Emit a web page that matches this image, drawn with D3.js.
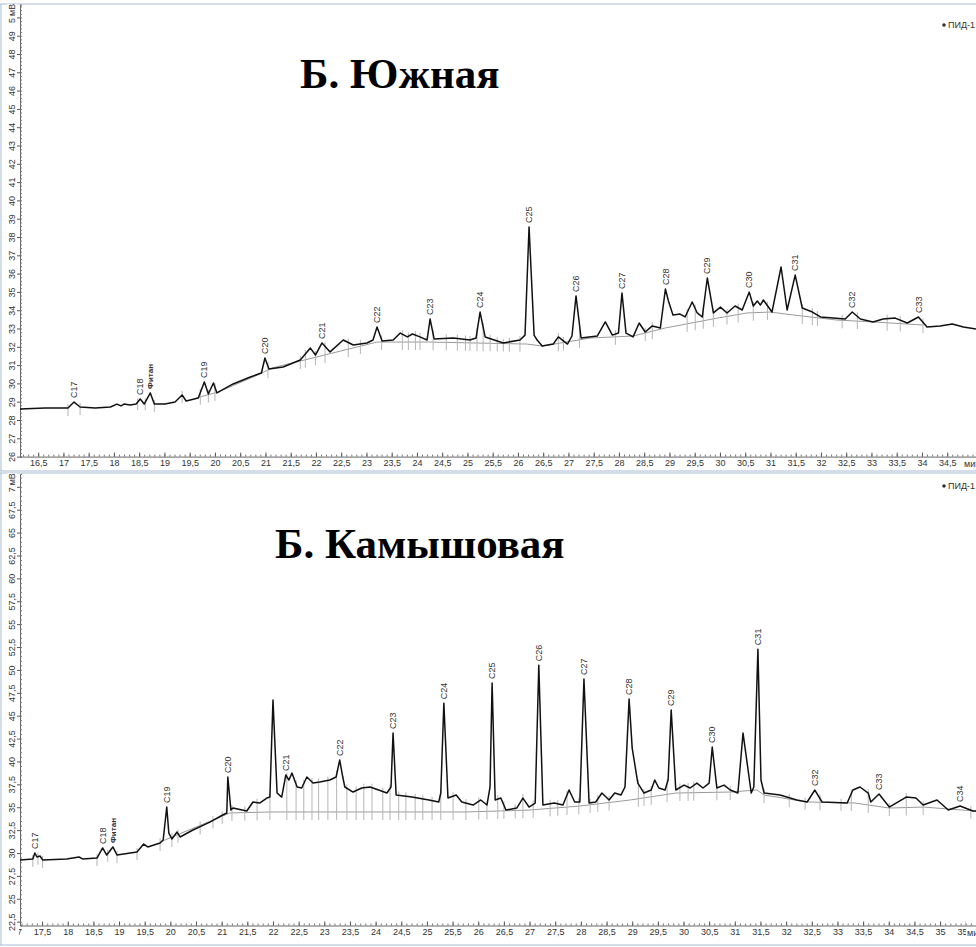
<!DOCTYPE html>
<html>
<head>
<meta charset="utf-8">
<script src="https://cdn.jsdelivr.net/npm/d3@7"></script>
<style>
  body { margin: 0; background: #fff; }
  svg { display: block; }
</style>
</head>
<body>
<div id="chromatogram-wrapper"></div>
<script>

// Б. Южная: [time, min ; signal, mV]
const yuzhnayaTrace = [
  [16.14, 28.60], [16.64, 28.66], [16.94, 28.66], [17.09, 28.66], [17.21, 28.98], [17.33, 28.71],
  [17.63, 28.66], [17.93, 28.71], [18.06, 28.87], [18.14, 28.77], [18.20, 28.87], [18.32, 28.82],
  [18.44, 28.87], [18.52, 29.15], [18.60, 28.87], [18.72, 29.48], [18.80, 28.87], [19.01, 28.87],
  [19.21, 28.98], [19.35, 29.37], [19.43, 29.04], [19.67, 29.20], [19.79, 30.08], [19.87, 29.42],
  [19.97, 30.02], [20.04, 29.48], [20.36, 29.97], [20.70, 30.35], [20.92, 30.57], [20.99, 31.39],
  [21.07, 30.79], [21.35, 30.90], [21.69, 31.28], [21.89, 31.93], [21.99, 31.55], [22.12, 32.21],
  [22.28, 31.72], [22.54, 32.37], [22.74, 32.10], [23.01, 32.21], [23.13, 32.37], [23.21, 33.08],
  [23.31, 32.32], [23.53, 32.37], [23.67, 32.75], [23.81, 32.54], [23.91, 32.70], [24.06, 32.54],
  [24.20, 32.37], [24.26, 33.52], [24.34, 32.43], [24.72, 32.48], [25.05, 32.37], [25.17, 32.48],
  [25.25, 33.90], [25.35, 32.54], [25.71, 32.21], [26.04, 32.37], [26.14, 32.64], [26.22, 38.55],
  [26.32, 32.64], [26.38, 32.37], [26.48, 32.04], [26.70, 32.15], [26.80, 32.54], [26.98, 32.15],
  [27.07, 32.59], [27.15, 34.78], [27.25, 32.48], [27.57, 32.59], [27.73, 33.36], [27.87, 32.64],
  [27.99, 32.75], [28.06, 34.94], [28.14, 32.75], [28.28, 32.54], [28.40, 33.30], [28.52, 32.81],
  [28.66, 33.14], [28.82, 33.03], [28.92, 35.16], [28.98, 34.50], [29.07, 33.74], [29.21, 33.79],
  [29.31, 33.63], [29.45, 34.45], [29.55, 33.85], [29.65, 33.63], [29.75, 35.76], [29.87, 33.85],
  [30.01, 34.17], [30.14, 33.85], [30.30, 34.23], [30.44, 34.01], [30.58, 34.99], [30.66, 34.23],
  [30.74, 34.50], [30.80, 34.28], [30.86, 34.56], [31.03, 33.90], [31.21, 36.36], [31.33, 34.01],
  [31.49, 35.92], [31.63, 34.12], [31.83, 33.90], [31.99, 33.63], [32.24, 33.57], [32.48, 33.52],
  [32.62, 33.90], [32.78, 33.52], [33.03, 33.36], [33.23, 33.52], [33.47, 33.57], [33.71, 33.30],
  [33.93, 33.63], [34.10, 33.08], [34.36, 33.14], [34.60, 33.25], [34.82, 33.08], [35.07, 32.97],
]

const yuzhnayaBaseline = [
  [19.63, 29.20], [20.06, 29.53], [20.80, 30.40], [21.13, 30.84], [22.58, 31.83], [23.21, 32.26],
  [24.26, 32.26], [26.18, 32.15], [26.48, 32.04], [27.43, 32.48], [28.28, 32.59], [28.92, 33.03],
  [29.95, 33.57], [30.54, 33.85], [31.00, 33.90], [31.45, 33.74], [32.32, 33.46], [33.03, 33.36],
  [34.02, 33.19],
]

const yuzhnayaMarkers = [
  17.09, 17.33, 18.47, 18.62, 18.80, 19.35, 19.71, 19.87, 20.00, 21.05, 21.69, 21.79, 21.99, 22.18,
  22.64, 22.88, 23.30, 23.71, 23.83, 23.97, 24.06, 24.32, 24.58, 24.80, 24.96, 25.05, 25.19, 25.31,
  25.45, 25.59, 25.71, 25.83, 26.04, 26.80, 26.90, 27.22, 27.93, 28.52, 28.66, 29.35, 29.51, 29.67,
  29.87, 30.14, 30.36, 30.66, 30.94, 31.63, 31.83, 31.93, 32.42, 32.72, 33.31, 33.57, 34.02,
]

const yuzhnayaPeaks = [
  ["C17", 17.21], ["C18", 18.52], ["Фитан", 18.72], ["C19", 19.79], ["C20", 20.99], ["C21", 22.12],
  ["C22", 23.21], ["C23", 24.26], ["C24", 25.25], ["C25", 26.22], ["C26", 27.15], ["C27", 28.06],
  ["C28", 28.92], ["C29", 29.75], ["C30", 30.58], ["C31", 31.49], ["C32", 32.62], ["C33", 33.93],
]

const yuzhnayaXTicks = [16.5, 17, 17.5, 18, 18.5, 19, 19.5, 20, 20.5, 21, 21.5, 22, 22.5, 23, 23.5, 24,
  24.5, 25, 25.5, 26, 26.5, 27, 27.5, 28, 28.5, 29, 29.5, 30, 30.5, 31, 31.5, 32, 32.5, 33, 33.5, 34, 34.5, 35]
const yuzhnayaYTicks = [26, 27, 28, 29, 30, 31, 32, 33, 34, 35, 36, 37, 38, 39, 40, 41, 42, 43, 44, 45,
  46, 47, 48, 49, 50]

// Б. Камышовая
const kamyshTrace = [
  [17.07, 29.24], [17.32, 29.35], [17.36, 30.00], [17.40, 29.56], [17.46, 29.67], [17.51, 29.24],
  [17.98, 29.35], [18.22, 29.56], [18.29, 29.35], [18.57, 29.45], [18.68, 30.55], [18.76, 29.78],
  [18.88, 30.66], [18.96, 29.78], [19.35, 30.11], [19.48, 30.98], [19.56, 30.66], [19.80, 31.09],
  [19.86, 31.42], [19.93, 35.02], [19.97, 32.18], [20.03, 31.53], [20.13, 32.29], [20.19, 31.75],
  [20.44, 32.51], [20.77, 33.38], [21.02, 34.15], [21.10, 34.37], [21.12, 38.30], [21.18, 34.69],
  [21.22, 34.91], [21.49, 34.59], [21.61, 35.57], [21.74, 35.46], [21.88, 36.00], [21.94, 36.11],
  [22.00, 46.70], [22.08, 36.55], [22.17, 36.11], [22.25, 38.52], [22.31, 37.97], [22.37, 38.73],
  [22.47, 37.21], [22.56, 37.10], [22.66, 38.30], [22.78, 37.64], [22.91, 37.75], [23.11, 37.97],
  [23.23, 38.30], [23.30, 40.15], [23.36, 38.30], [23.40, 37.21], [23.56, 36.66], [23.73, 37.10],
  [23.89, 37.21], [24.06, 36.88], [24.22, 36.55], [24.30, 37.21], [24.34, 43.10], [24.40, 36.33],
  [24.71, 36.11], [25.04, 35.79], [25.23, 35.57], [25.27, 36.55], [25.33, 46.37], [25.41, 36.00],
  [25.57, 36.33], [25.68, 35.57], [25.90, 35.24], [26.05, 35.79], [26.17, 35.24], [26.23, 37.21],
  [26.27, 48.56], [26.33, 35.79], [26.44, 36.00], [26.54, 34.69], [26.75, 34.91], [26.87, 36.00],
  [26.99, 35.02], [27.11, 35.46], [27.18, 50.52], [27.26, 35.24], [27.48, 35.46], [27.65, 35.24],
  [27.77, 36.88], [27.88, 35.57], [27.98, 35.57], [28.06, 49.00], [28.16, 35.46], [28.29, 35.57],
  [28.41, 36.55], [28.55, 35.79], [28.66, 36.55], [28.78, 36.33], [28.86, 37.21], [28.94, 46.81],
  [29.00, 41.46], [29.11, 37.64], [29.23, 36.55], [29.37, 36.88], [29.44, 37.97], [29.52, 37.10],
  [29.64, 36.88], [29.70, 37.97], [29.76, 45.61], [29.85, 36.88], [30.01, 37.42], [30.13, 37.10],
  [30.26, 37.64], [30.38, 37.10], [30.50, 37.64], [30.56, 41.57], [30.65, 37.10], [30.79, 37.42],
  [30.91, 36.88], [31.06, 36.55], [31.16, 43.10], [31.32, 36.55], [31.37, 37.21], [31.45, 52.27],
  [31.51, 37.97], [31.57, 36.55], [31.88, 36.33], [32.21, 35.79], [32.41, 35.57], [32.56, 36.88],
  [32.70, 35.57], [33.19, 35.46], [33.30, 36.88], [33.44, 37.21], [33.60, 36.55], [33.65, 35.57],
  [33.81, 36.44], [34.01, 35.02], [34.34, 36.11], [34.53, 36.00], [34.67, 35.24], [34.94, 35.79],
  [35.16, 34.69], [35.39, 35.13], [35.64, 34.58], [35.70, 34.58],
]

const kamyshBaseline = [
  [19.80, 31.20], [21.16, 34.37], [21.94, 34.48], [25.76, 34.48], [26.99, 34.69], [27.98, 35.13],
  [28.96, 35.79], [29.85, 36.55], [30.91, 36.66], [31.43, 36.88], [31.57, 36.33], [32.41, 35.57],
  [33.34, 35.46], [34.01, 34.91], [34.67, 35.02], [35.70, 34.58],
]

const kamyshMarkers = [
  17.32, 17.42, 17.51, 18.57, 18.78, 18.96, 19.35, 19.80, 20.03, 20.15, 20.58, 20.83, 21.01, 21.20,
  21.45, 21.69, 21.94, 22.27, 22.45, 22.60, 22.76, 22.89, 23.07, 23.24, 23.44, 23.62, 23.77, 23.93,
  24.14, 24.28, 24.45, 24.59, 24.77, 24.92, 25.10, 25.27, 25.51, 25.76, 26.01, 26.17, 26.38, 26.50,
  26.72, 26.87, 27.07, 27.40, 27.55, 27.73, 27.96, 28.18, 28.33, 28.55, 29.12, 29.23, 29.37, 29.68,
  29.93, 30.09, 30.20, 30.65, 30.91, 31.57, 32.06, 32.37, 32.66, 33.07, 33.27, 33.60, 34.01, 34.34,
  34.67, 35.60,
]

const kamyshPeaks = [
  ["C17", 17.36], ["C18", 18.68], ["Фитан", 18.88], ["C19", 19.93], ["C20", 21.12], ["C21", 22.25],
  ["C22", 23.30], ["C23", 24.34], ["C24", 25.33], ["C25", 26.27], ["C26", 27.18], ["C27", 28.06],
  ["C28", 28.94], ["C29", 29.76], ["C30", 30.56], ["C31", 31.45], ["C32", 32.56], ["C33", 33.81],
  ["C34", 35.39],
]

const kamyshXTicks = [17, 17.5, 18, 18.5, 19, 19.5, 20, 20.5, 21, 21.5, 22, 22.5, 23, 23.5, 24, 24.5,
  25, 25.5, 26, 26.5, 27, 27.5, 28, 28.5, 29, 29.5, 30, 30.5, 31, 31.5, 32, 32.5, 33, 33.5, 34, 34.5, 35, 35.5]
const kamyshYTicks = [22.5, 25, 27.5, 30, 32.5, 35, 37.5, 40, 42.5, 45, 47.5, 50, 52.5, 55, 57.5, 60,
  62.5, 65, 67.5, 70]

const axisFont = "9px 'Liberation Sans Narrow', 'Liberation Sans', sans-serif"
const formatComma = d => String(d).replace(".", ",")
const bisectTime = d3.bisector(d => d[0]).left

function valueAt(series, t) {
  const i = bisectTime(series, t)
  if (i <= 0) return series[0][1]
  if (i >= series.length) return series[series.length - 1][1]
  const a = series[i - 1]
  const b = series[i]
  return a[1] + (b[1] - a[1]) * (t - a[0]) / (b[0] - a[0])
}

function drawPanel(svg, p) {

  const xScale = d3.scaleLinear()
      .domain(p.xDomain)
      .range([20, 976])

  const yScale = d3.scaleLinear()
      .domain(p.yDomain)
      .range(p.yRange)

  const axisY = p.yRange[0]

  // frame
  const frameColor = "#a9bcd4"
  svg.append("line")
      .attr("x1", 1).attr("x2", 1)
      .attr("y1", p.frameTop).attr("y2", p.frameBottom)
      .attr("stroke", frameColor)
  svg.append("line")
      .attr("x1", 0).attr("x2", 976)
      .attr("y1", p.frameTop).attr("y2", p.frameTop)
      .attr("stroke", frameColor)
  svg.append("line")
      .attr("x1", 0).attr("x2", 976)
      .attr("y1", p.frameBottom).attr("y2", p.frameBottom)
      .attr("stroke", frameColor)

  const clipId = "clip-" + p.id
  svg.append("clipPath")
      .attr("id", clipId)
    .append("rect")
      .attr("x", 20)
      .attr("y", p.frameTop)
      .attr("width", 956)
      .attr("height", axisY - p.frameTop)

  // tick labels are hidden left of the signal axis and under the unit label
  const labelClipId = "label-clip-" + p.id
  svg.append("clipPath")
      .attr("id", labelClipId)
    .append("rect")
      .attr("x", 19)
      .attr("y", axisY - 6)
      .attr("width", p.unitX - 20)
      .attr("height", 20)

  // axes
  const xAxisMinor = d3.axisBottom(xScale)
      .tickValues(d3.range(Math.ceil(p.xDomain[0] * 10), Math.floor(p.xDomain[1] * 10) + 1).map(d => d / 10))
      .tickSize(-2)
      .tickFormat("")
  svg.append("g")
      .attr("transform", `translate(0, ${axisY})`)
      .call(xAxisMinor)
      .call(g => g.select(".domain").attr("stroke", "#666"))
      .call(g => g.selectAll(".tick line").attr("stroke", "#777"))

  const xAxisGenerator = d3.axisBottom(xScale)
      .tickValues(p.xTicks)
      .tickFormat(formatComma)
      .tickSize(-4)
      .tickPadding(3)
  svg.append("g")
      .attr("clip-path", `url(#${labelClipId})`)
    .append("g")
      .attr("transform", `translate(0, ${axisY})`)
      .call(xAxisGenerator)
      .call(g => g.select(".domain").remove())
      .call(g => g.selectAll(".tick line").attr("stroke", "#555"))
      .call(g => g.selectAll(".tick text")
        .attr("fill", "#333")
        .style("font", axisFont))

  // unit label on time axis
  svg.append("text")
      .attr("x", p.unitX).attr("y", axisY + 10.5)
      .attr("fill", "#333")
      .style("font", axisFont)
      .text("мин")

  const yAxisMinor = d3.axisLeft(yScale)
      .tickValues(d3.range(Math.ceil(p.yDomain[0] / p.minorStep), Math.floor(p.yDomain[1] / p.minorStep) + 1)
        .map(d => d * p.minorStep))
      .tickSize(-2)
      .tickFormat("")
  svg.append("g")
      .attr("transform", "translate(20, 0)")
      .call(yAxisMinor)
      .call(g => g.select(".domain").attr("stroke", "#666"))
      .call(g => g.selectAll(".tick line").attr("stroke", "#777"))

  const yAxisGenerator = d3.axisLeft(yScale)
      .tickValues(p.yTicks)
      .tickFormat(formatComma)
      .tickSize(3)
  svg.append("g")
      .attr("transform", "translate(20, 0)")
      .call(yAxisGenerator)
      .call(g => g.select(".domain").remove())
      .call(g => g.selectAll(".tick line").attr("stroke", "#555"))
      .call(g => g.selectAll(".tick text")
        .attr("transform", "rotate(-90)")
        .attr("x", 0)
        .attr("y", -5)
        .attr("dy", null)
        .attr("text-anchor", "middle")
        .attr("fill", "#333")
        .style("font", axisFont))

  // unit label on signal axis, laid over the top tick label
  const unitY = svg.append("g")
      .attr("transform", `translate(15, ${yScale(p.yTicks[p.yTicks.length - 1]) + 0.5}) rotate(-90)`)
  unitY.append("rect")
      .attr("x", 0).attr("y", -8)
      .attr("width", 14).attr("height", 10)
      .attr("fill", "#fff")
  unitY.append("text")
      .attr("x", 2).attr("y", 0)
      .attr("fill", "#333")
      .style("font", axisFont)
      .text("мВ")

  const plot = svg.append("g")
      .attr("clip-path", `url(#${clipId})`)

  const lineGenerator = d3.line()
      .x(d => xScale(d[0]))
      .y(d => yScale(d[1]))

  // integration baseline
  plot.append("path")
      .attr("d", lineGenerator(p.baseline))
      .attr("fill", "none")
      .attr("stroke", "#9a9a9a")
      .attr("stroke-width", 1)

  // peak boundary markers
  const baseStart = p.baseline[0][0]
  const baseEnd = p.baseline[p.baseline.length - 1][0]
  const markerEnds = d => {
    const ty = yScale(valueAt(p.trace, d))
    const by = d >= baseStart && d <= baseEnd ? yScale(valueAt(p.baseline, d)) : ty
    return [Math.min(ty, by) - 4, Math.max(ty, by) + 8]
  }
  plot.append("g")
    .selectAll("line")
    .data(p.markers)
    .join("line")
      .attr("x1", d => xScale(d))
      .attr("x2", d => xScale(d))
      .attr("y1", d => markerEnds(d)[0])
      .attr("y2", d => markerEnds(d)[1])
      .attr("stroke", "#b5b5b5")
      .attr("stroke-width", 1)

  // signal trace
  plot.append("path")
      .attr("d", lineGenerator(p.trace))
      .attr("fill", "none")
      .attr("stroke", "#111")
      .attr("stroke-width", 1.5)
      .attr("stroke-linejoin", "round")

  // peak names
  svg.append("g")
    .selectAll("text")
    .data(p.peaks)
    .join("text")
      .attr("transform", d => {
        const apex = p.trace.find(pt => pt[0] === d[1])
        return `translate(${xScale(d[1])}, ${yScale(apex[1]) - 4}) rotate(-90)`
      })
      .attr("dy", "0.35em")
      .attr("fill", "#333")
      .style("font", d => d[0] === "Фитан"
        ? "bold 8px 'Liberation Sans Narrow', 'Liberation Sans', sans-serif"
        : "9px 'Liberation Sans', sans-serif")
      .text(d => d[0])

  // title
  svg.append("text")
      .attr("x", p.titleX)
      .attr("y", p.titleY)
      .attr("fill", "#000")
      .style("font", "bold 43px 'Liberation Serif', 'Times New Roman', serif")
      .text(p.title)

  // legend
  svg.append("circle")
      .attr("cx", 944)
      .attr("cy", p.legendY - 3)
      .attr("r", 1.8)
      .attr("fill", "#333")
  svg.append("text")
      .attr("x", 948)
      .attr("y", p.legendY)
      .attr("fill", "#333")
      .style("font", axisFont)
      .text("ПИД-1")
}

function drawChart() {

  const dimensions = {
    width: 976,
    height: 947,
  }

  const wrapper = d3.select("#chromatogram-wrapper")
    .append("svg")
      .attr("width", dimensions.width)
      .attr("height", dimensions.height)

  drawPanel(wrapper, {
    id: "yuzhnaya",
    title: "Б. Южная",
    titleX: 300,
    titleY: 88,
    legendY: 28,
    frameTop: 4,
    frameBottom: 471,
    unitX: 964,
    xDomain: [16.14, 35.07],
    yDomain: [26, 50.7],
    yRange: [456.6, 4.6],
    minorStep: 0.2,
    xTicks: yuzhnayaXTicks,
    yTicks: yuzhnayaYTicks,
    trace: yuzhnayaTrace,
    baseline: yuzhnayaBaseline,
    markers: yuzhnayaMarkers,
    peaks: yuzhnayaPeaks,
  })

  drawPanel(wrapper, {
    id: "kamysh",
    title: "Б. Камышовая",
    titleX: 275,
    titleY: 558,
    legendY: 489,
    frameTop: 473,
    frameBottom: 945,
    unitX: 967,
    xDomain: [17.07, 35.70],
    yDomain: [22.08, 71.4],
    yRange: [925.5, 474],
    minorStep: 0.5,
    xTicks: kamyshXTicks,
    yTicks: kamyshYTicks,
    trace: kamyshTrace,
    baseline: kamyshBaseline,
    markers: kamyshMarkers,
    peaks: kamyshPeaks,
  })
}

drawChart()
</script>
</body>
</html>
